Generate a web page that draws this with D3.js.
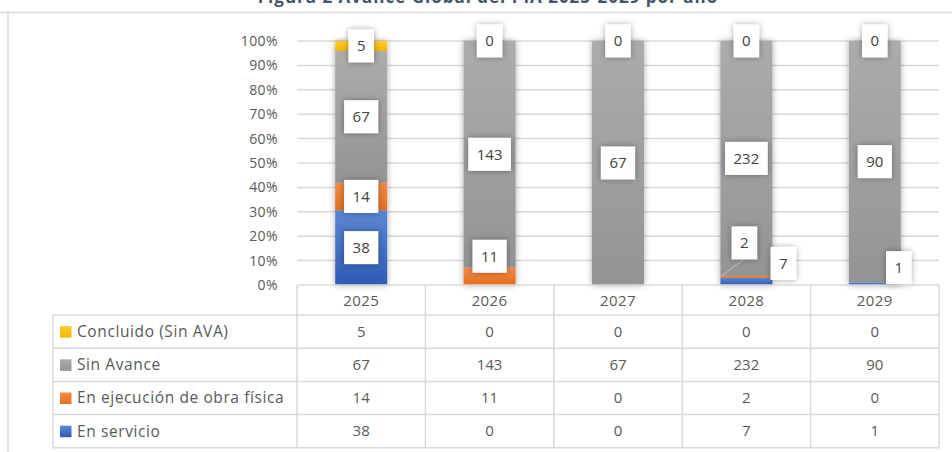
<!DOCTYPE html>
<html>
<head>
<meta charset="utf-8">
<script src="https://cdn.jsdelivr.net/npm/d3@7"></script>
<style>
  body { margin: 0; background: #fff; }
  svg { display: block; font-family: "Open Sans", sans-serif; }
</style>
</head>
<body>
<svg id="chart" width="952" height="452"></svg>
<script>
var years = ["2025", "2026", "2027", "2028", "2029"];
var seriesNames = ["Concluido (Sin AVA)", "Sin Avance", "En ejecución de obra física", "En servicio"];
var concluido = [5, 0, 0, 0, 0];
var sinAvance = [67, 143, 67, 232, 90];
var enEjecucion = [14, 11, 0, 2, 0];
var enServicio = [38, 0, 0, 7, 1];
var yTicks = [0, 0.1, 0.2, 0.3, 0.4, 0.5, 0.6, 0.7, 0.8, 0.9, 1];
var title = "Figura 2 Avance Global del PIA 2025-2029 por año";

var values = [concluido, sinAvance, enEjecucion, enServicio];
var keys = ["concluido", "sinAvance", "enEjecucion", "enServicio"];
var colors = {
  concluido: ["#ffcd33", "#f2b500"],
  sinAvance: ["#acacac", "#949494"],
  enEjecucion: ["#f28b4a", "#e56f1e"],
  enServicio: ["#5b87d3", "#2d5cb6"]
};

// table rows for d3.stack
var table = years.map(function(y, i) {
  var row = { year: y };
  keys.forEach(function(k, j) { row[k] = values[j][i]; });
  return row;
});

// label nudges (moved by hand in the original)
var nudge = {
  "enEjecucion-2026": [0, -20],
  "enEjecucion-2028": [-2, -34, true],
  "enServicio-2028": [37, -18],
  "enServicio-2029": [24, -16]
};

var svg = d3.select("#chart"),
    plot = { left: 297, right: 939, top: 41, bottom: 285 },
    rowH = 33.2, headH = 30, labelLeft = 53;

var defs = svg.append("defs");
var f = defs.append("filter").attr("id", "shadow")
    .attr("x", "-50%").attr("y", "-50%").attr("width", "200%").attr("height", "200%");
f.append("feDropShadow").attr("dx", 0).attr("dy", 0)
    .attr("stdDeviation", 3).attr("flood-color", "#000").attr("flood-opacity", 0.35);

keys.forEach(function(k) {
  var g = defs.append("linearGradient").attr("id", "grad-" + k)
      .attr("x1", 0).attr("y1", 0).attr("x2", 0).attr("y2", 1);
  g.append("stop").attr("offset", "0%").attr("stop-color", colors[k][0]);
  g.append("stop").attr("offset", "100%").attr("stop-color", colors[k][1]);
});

// frame
svg.append("line").attr("x1", 0).attr("x2", 952).attr("y1", 12.5).attr("y2", 12.5)
    .attr("stroke", "#d9d9d9").attr("stroke-width", 1.5);
svg.append("line").attr("x1", 8).attr("x2", 8).attr("y1", 12.5).attr("y2", 452)
    .attr("stroke", "#d9d9d9").attr("stroke-width", 1.5);

svg.append("text").attr("x", 488).attr("y", 3)
    .attr("text-anchor", "middle").attr("font-size", 17).attr("font-weight", "bold")
    .attr("letter-spacing", 1).attr("fill", "#44546a").text(title);

var x = d3.scaleBand().domain(years).range([plot.left, plot.right])
    .paddingInner(0.595).paddingOuter(0.2975);
var y = d3.scaleLinear().domain([0, 1]).range([plot.bottom, plot.top]);

// gridlines
svg.append("g").selectAll("line").data(yTicks.slice(1)).enter().append("line")
    .attr("x1", plot.left).attr("x2", plot.right)
    .attr("y1", function(d) { return y(d); }).attr("y2", function(d) { return y(d); })
    .attr("stroke", "#d9d9d9").attr("stroke-width", 1.5);

var yAxis = svg.append("g").attr("transform", "translate(" + plot.left + ",0)")
    .call(d3.axisLeft(y).tickValues(yTicks).tickFormat(d3.format(".0%")).tickSize(0).tickPadding(19));
yAxis.select(".domain").remove();
yAxis.selectAll("text").attr("font-size", 14).attr("fill", "#595959")
    .attr("letter-spacing", 0.4).attr("font-family", "Open Sans, sans-serif");

var stack = d3.stack().keys(keys.slice().reverse()).offset(d3.stackOffsetExpand);
var layers = stack(table);

var bars = svg.append("g").attr("filter", "url(#shadow)");
layers.forEach(function(layer) {
  bars.selectAll(".s-" + layer.key).data(layer).enter().append("rect")
      .attr("x", function(d) { return x(d.data.year); })
      .attr("width", x.bandwidth())
      .attr("y", function(d) { return y(d[1]); })
      .attr("height", function(d) { return y(d[0]) - y(d[1]); })
      .attr("fill", "url(#grad-" + layer.key + ")");
});

// data labels
var labels = svg.append("g");
layers.forEach(function(layer) {
  layer.forEach(function(d) {
    var v = d.data[layer.key];
    if (v === 0 && layer.key !== "concluido") return;
    var cx = x(d.data.year) + x.bandwidth() / 2,
        cy = y((d[0] + d[1]) / 2);
    var n = nudge[layer.key + "-" + d.data.year];
    var lx = cx, ly = cy;
    if (n) { lx += n[0]; ly += n[1]; }
    if (n && n[2]) {
      labels.append("line").attr("x1", x(d.data.year)).attr("y1", cy)
          .attr("x2", lx).attr("y2", ly + 16)
          .attr("stroke", "#bfbfbf").attr("stroke-width", 1);
    }
    var g = labels.append("g").attr("transform", "translate(" + lx + "," + ly + ")");
    var box = g.append("rect").attr("fill", "#fff").attr("filter", "url(#shadow)");
    var t = g.append("text").attr("text-anchor", "middle").attr("dy", "0.35em")
        .attr("font-size", 15).attr("fill", "#404040").text(v);
    var w = t.node().getComputedTextLength() + 17;
    box.attr("x", -w / 2).attr("y", -16.5).attr("width", w).attr("height", 33);
  });
});

// data table
var tbl = svg.append("g");
var gridC = "#d9d9d9";
var tableBottom = plot.bottom + headH + rowH * seriesNames.length;
// header row
tbl.selectAll(".yr").data(years).enter().append("text")
    .attr("x", function(d) { return x(d) + x.bandwidth() / 2; })
    .attr("y", plot.bottom + headH / 2 + 1).attr("dy", "0.35em")
    .attr("text-anchor", "middle").attr("font-size", 15).attr("letter-spacing", 0.4)
    .attr("fill", "#595959")
    .text(function(d) { return d; });
// horizontal lines
d3.range(seriesNames.length + 1).forEach(function(i) {
  var yy = plot.bottom + headH + rowH * i;
  tbl.append("line").attr("x1", labelLeft).attr("x2", plot.right)
      .attr("y1", yy).attr("y2", yy).attr("stroke", gridC).attr("stroke-width", 1.5);
});
tbl.append("line").attr("x1", plot.left).attr("x2", plot.right)
    .attr("y1", plot.bottom).attr("y2", plot.bottom).attr("stroke", gridC).attr("stroke-width", 1.5);
// vertical lines
var step = x.step();
d3.range(years.length + 1).forEach(function(i) {
  var xx = plot.left + step * i;
  tbl.append("line").attr("x1", xx).attr("x2", xx)
      .attr("y1", plot.bottom).attr("y2", tableBottom).attr("stroke", gridC).attr("stroke-width", 1.5);
});
tbl.append("line").attr("x1", labelLeft).attr("x2", labelLeft)
    .attr("y1", plot.bottom + headH).attr("y2", tableBottom).attr("stroke", gridC).attr("stroke-width", 1.5);

seriesNames.forEach(function(name, i) {
  var cy = plot.bottom + headH + rowH * i + rowH / 2;
  tbl.append("rect").attr("x", 60).attr("y", cy - 5.5).attr("width", 11.5).attr("height", 11.5)
      .attr("fill", "url(#grad-" + keys[i] + ")");
  tbl.append("text").attr("x", 77).attr("y", cy).attr("dy", "0.35em")
      .attr("font-size", 15.5).attr("letter-spacing", 0.6).attr("fill", "#595959").text(name);
  tbl.selectAll(".v" + i).data(values[i]).enter().append("text")
      .attr("x", function(d, j) { return x(years[j]) + x.bandwidth() / 2; })
      .attr("y", cy).attr("dy", "0.35em")
      .attr("text-anchor", "middle").attr("font-size", 15).attr("fill", "#595959")
      .text(function(d) { return d; });
});
</script>
</body>
</html>
